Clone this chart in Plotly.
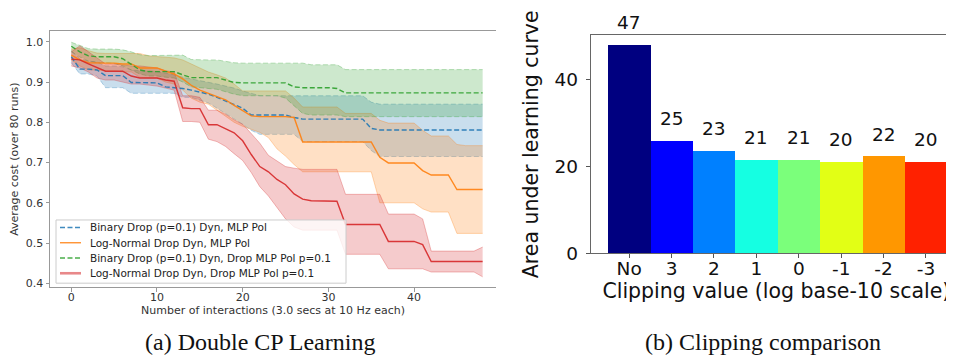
import plotly.graph_objects as go

# ---------------- data: left panel ----------------
interactions = list(range(49))

bin_mlp_mean = [0.963, 0.932, 0.932, 0.930, 0.916, 0.916, 0.916, 0.899, 0.899, 0.899,
                0.898, 0.888, 0.886, 0.884, 0.880, 0.875, 0.870, 0.862, 0.853, 0.842,
                0.835, 0.818, 0.818, 0.818, 0.818, 0.818, 0.812, 0.808, 0.808, 0.808,
                0.808, 0.808, 0.808, 0.808, 0.808, 0.785, 0.781, 0.781, 0.781, 0.781,
                0.781, 0.781, 0.781, 0.781, 0.781, 0.781, 0.781, 0.781, 0.781]
bin_mlp_upper = [0.978, 0.958, 0.952, 0.950, 0.940, 0.940, 0.938, 0.930, 0.928, 0.928,
                 0.926, 0.922, 0.918, 0.912, 0.908, 0.904, 0.900, 0.895, 0.890, 0.885,
                 0.878, 0.872, 0.866, 0.866, 0.866, 0.866, 0.866, 0.866, 0.866, 0.866,
                 0.866, 0.866, 0.866, 0.866, 0.866, 0.850, 0.845, 0.845, 0.845, 0.845,
                 0.845, 0.845, 0.845, 0.845, 0.845, 0.845, 0.845, 0.845, 0.845]
bin_mlp_lower = [0.948, 0.920, 0.920, 0.915, 0.886, 0.886, 0.886, 0.872, 0.872, 0.872,
                 0.872, 0.872, 0.872, 0.862, 0.862, 0.855, 0.848, 0.835, 0.822, 0.810,
                 0.795, 0.780, 0.770, 0.770, 0.770, 0.770, 0.770, 0.752, 0.752, 0.752,
                 0.752, 0.752, 0.752, 0.752, 0.752, 0.730, 0.715, 0.715, 0.715, 0.715,
                 0.715, 0.715, 0.715, 0.715, 0.715, 0.715, 0.715, 0.715, 0.715]

ln_mlp_mean = [0.967, 0.955, 0.948, 0.947, 0.947, 0.947, 0.945, 0.945, 0.935, 0.935,
               0.935, 0.927, 0.920, 0.908, 0.892, 0.880, 0.872, 0.865, 0.856, 0.842,
               0.830, 0.816, 0.814, 0.814, 0.814, 0.814, 0.812, 0.751, 0.751, 0.751,
               0.751, 0.751, 0.751, 0.751, 0.751, 0.751, 0.713, 0.699, 0.699, 0.699,
               0.699, 0.680, 0.669, 0.669, 0.669, 0.633, 0.633, 0.633, 0.633]
ln_mlp_upper = [0.982, 0.985, 0.978, 0.972, 0.971, 0.971, 0.971, 0.971, 0.971, 0.965,
                0.963, 0.962, 0.960, 0.955, 0.945, 0.935, 0.925, 0.918, 0.910, 0.895,
                0.878, 0.878, 0.878, 0.878, 0.878, 0.878, 0.860, 0.838, 0.838, 0.838,
                0.838, 0.838, 0.822, 0.822, 0.822, 0.822, 0.805, 0.798, 0.798, 0.798,
                0.798, 0.780, 0.766, 0.766, 0.766, 0.745, 0.742, 0.742, 0.742]
ln_mlp_lower = [0.955, 0.940, 0.930, 0.930, 0.928, 0.928, 0.925, 0.925, 0.912, 0.910,
                0.910, 0.900, 0.895, 0.880, 0.860, 0.850, 0.845, 0.830, 0.815, 0.800,
                0.790, 0.782, 0.775, 0.762, 0.734, 0.716, 0.695, 0.677, 0.677, 0.677,
                0.677, 0.677, 0.677, 0.677, 0.677, 0.677, 0.600, 0.600, 0.600, 0.600,
                0.600, 0.585, 0.577, 0.577, 0.577, 0.524, 0.524, 0.524, 0.524]

bin_drop_mean = [0.989, 0.975, 0.965, 0.963, 0.963, 0.963, 0.958, 0.945, 0.930, 0.926,
                 0.926, 0.926, 0.926, 0.918, 0.911, 0.911, 0.911, 0.911, 0.905, 0.899,
                 0.898, 0.898, 0.898, 0.898, 0.898, 0.898, 0.888, 0.886, 0.886, 0.886,
                 0.886, 0.884, 0.873, 0.873, 0.873, 0.873, 0.873, 0.873, 0.873, 0.873,
                 0.873, 0.873, 0.873, 0.873, 0.873, 0.873, 0.873, 0.873, 0.873]
bin_drop_upper = [0.999, 0.990, 0.983, 0.982, 0.982, 0.982, 0.980, 0.975, 0.968, 0.966,
                  0.966, 0.966, 0.966, 0.967, 0.956, 0.955, 0.955, 0.955, 0.952, 0.948,
                  0.947, 0.947, 0.947, 0.947, 0.947, 0.947, 0.947, 0.947, 0.943, 0.943,
                  0.943, 0.943, 0.931, 0.931, 0.931, 0.931, 0.931, 0.931, 0.931, 0.931,
                  0.931, 0.931, 0.931, 0.931, 0.931, 0.931, 0.931, 0.931, 0.931]
bin_drop_lower = [0.975, 0.962, 0.952, 0.948, 0.948, 0.946, 0.940, 0.930, 0.920, 0.915,
                  0.915, 0.912, 0.910, 0.900, 0.888, 0.886, 0.884, 0.882, 0.876, 0.870,
                  0.866, 0.866, 0.866, 0.866, 0.866, 0.860, 0.842, 0.822, 0.818, 0.818,
                  0.818, 0.818, 0.814, 0.814, 0.814, 0.814, 0.814, 0.814, 0.814, 0.814,
                  0.814, 0.814, 0.814, 0.814, 0.814, 0.814, 0.814, 0.814, 0.814]

ln_drop_mean = [0.957, 0.955, 0.945, 0.935, 0.927, 0.927, 0.927, 0.915, 0.910, 0.910,
                0.910, 0.905, 0.902, 0.836, 0.834, 0.834, 0.794, 0.794, 0.785, 0.774,
                0.754, 0.720, 0.690, 0.677, 0.658, 0.645, 0.622, 0.609, 0.605, 0.605,
                0.605, 0.604, 0.546, 0.546, 0.546, 0.546, 0.546, 0.504, 0.504, 0.504,
                0.504, 0.496, 0.454, 0.454, 0.454, 0.454, 0.454, 0.454, 0.454]
ln_drop_upper = [0.975, 0.990, 0.975, 0.960, 0.945, 0.945, 0.943, 0.940, 0.940, 0.938,
                 0.935, 0.928, 0.925, 0.866, 0.866, 0.862, 0.830, 0.830, 0.820, 0.806,
                 0.795, 0.772, 0.748, 0.718, 0.703, 0.690, 0.686, 0.683, 0.683, 0.683,
                 0.683, 0.683, 0.621, 0.621, 0.621, 0.621, 0.621, 0.572, 0.572, 0.572,
                 0.572, 0.560, 0.480, 0.480, 0.480, 0.480, 0.480, 0.480, 0.490]
ln_drop_lower = [0.940, 0.935, 0.925, 0.910, 0.905, 0.905, 0.900, 0.895, 0.895, 0.893,
                 0.890, 0.885, 0.880, 0.802, 0.802, 0.800, 0.758, 0.752, 0.740, 0.722,
                 0.705, 0.675, 0.640, 0.617, 0.590, 0.560, 0.540, 0.532, 0.532, 0.532,
                 0.532, 0.532, 0.472, 0.472, 0.472, 0.472, 0.472, 0.436, 0.436, 0.436,
                 0.436, 0.436, 0.428, 0.428, 0.428, 0.428, 0.428, 0.428, 0.416]

series_names = ["Binary Drop (p=0.1) Dyn, MLP Pol",
                "Log-Normal Drop Dyn, MLP Pol",
                "Binary Drop (p=0.1) Dyn, Drop MLP Pol p=0.1",
                "Log-Normal Drop Dyn, Drop MLP Pol p=0.1"]

y_ticks_left = [0.4, 0.5, 0.6, 0.7, 0.8, 0.9, 1.0]
x_ticks_left = [0, 10, 20, 30, 40]

# ---------------- data: right panel ----------------
clip_labels = ["No", "3", "2", "1", "0", "-1", "-2", "-3"]
auc_values = [47.9, 25.8, 23.5, 21.4, 21.4, 20.9, 22.2, 20.9]
auc_text = [str(int(v)) for v in auc_values]
y_ticks_right = [0, 20, 40]

# ---------------- styling ----------------
W, H = 954, 362
rgb = {"blue": (31, 119, 180), "orange": (255, 127, 14),
       "green": (44, 160, 44), "red": (214, 39, 40)}
bar_colors = ["#000080", "#0000ff", "#0080ff", "#15ffe2",
              "#7bff7b", "#e2ff15", "#ff9700", "#ff2100"]


def rgba(c, a):
    r, g, b = rgb[c]
    return f"rgba({r},{g},{b},{a})"


def px(x):
    return x / W


def py(y):
    return 1 - y / H


fig = go.Figure()

series = [
    (series_names[0], "blue", "dash", bin_mlp_mean, bin_mlp_lower, bin_mlp_upper),
    (series_names[1], "orange", "solid", ln_mlp_mean, ln_mlp_lower, ln_mlp_upper),
    (series_names[2], "green", "dash", bin_drop_mean, bin_drop_lower, bin_drop_upper),
    (series_names[3], "red", "solid", ln_drop_mean, ln_drop_lower, ln_drop_upper),
]
dash_pat = {"dash": "5px,2.5px", "solid": "solid"}

for name, col, dash, mean, lo, up in series:
    fig.add_trace(go.Scatter(x=interactions, y=lo, mode="lines",
                             line=dict(color=rgba(col, 0.3), width=1, dash=dash_pat[dash]),
                             showlegend=False, hoverinfo="skip",
                             xaxis="x", yaxis="y"))
    fig.add_trace(go.Scatter(x=interactions, y=up, mode="lines", fill="tonexty",
                             fillcolor=rgba(col, 0.24),
                             line=dict(color=rgba(col, 0.3), width=1, dash=dash_pat[dash]),
                             showlegend=False, hoverinfo="skip",
                             xaxis="x", yaxis="y"))
for name, col, dash, mean, lo, up in series:
    fig.add_trace(go.Scatter(x=interactions, y=mean, mode="lines", name=name,
                             line=dict(color=rgba(col, 0.9), width=1.4, dash=dash_pat[dash]),
                             showlegend=False, xaxis="x", yaxis="y"))

fig.add_trace(go.Bar(x=clip_labels, y=auc_values,
                     marker=dict(color=bar_colors, line=dict(width=0)),
                     width=1.0, showlegend=False, xaxis="x2", yaxis="y2"))

# ---- legend box for the left panel (drawn as shapes + text) ----
shapes = [dict(type="rect", xref="paper", yref="paper",
               x0=px(48), x1=px(338), y0=py(283), y1=py(218),
               fillcolor="rgba(255,255,255,0.8)", line=dict(color="#cccccc", width=1),
               layer="above")]
annotations = []
legend_y0, legend_dy = 225.7, 15.7
for i, (name, col, dash, mean, lo, up) in enumerate(series):
    yc = legend_y0 + legend_dy * i
    is_red = col == "red"
    shapes.append(dict(type="line", xref="paper", yref="paper",
                       x0=px(52), x1=px(73), y0=py(yc), y1=py(yc),
                       line=dict(color=rgba(col, 0.55 if is_red else 0.85),
                                 width=2.6 if is_red else 1.4,
                                 dash=dash_pat[dash]),
                       layer="above"))
    annotations.append(dict(text=name, x=px(80), y=py(yc), xref="paper", yref="paper",
                            showarrow=False, xanchor="left", yanchor="middle",
                            font=dict(family="DejaVu Sans", size=10.5, color="#222")))

# ---- bar value labels (category index positions) ----
for idx, (val, txt) in enumerate(zip(auc_values, auc_text)):
    annotations.append(dict(text=txt, x=idx, y=val, xref="x2", yref="y2",
                            showarrow=False, xanchor="center", yanchor="bottom",
                            yshift=10,
                            font=dict(family="DejaVu Sans", size=18.5, color="#111")))

# ---- sub-figure captions ----
annotations += [
    dict(text="(a) Double CP Learning", x=px(252), y=py(344), xref="paper", yref="paper",
         showarrow=False, xanchor="center", yanchor="middle",
         font=dict(family="Liberation Serif", size=24, color="#111")),
    dict(text="(b) Clipping comparison", x=px(755), y=py(344), xref="paper", yref="paper",
         showarrow=False, xanchor="center", yanchor="middle",
         font=dict(family="Liberation Serif", size=24, color="#111")),
]

left_font = dict(family="DejaVu Sans", size=11, color="#333")
right_font = dict(family="DejaVu Sans", size=18.5, color="#111")
title_font_r = dict(family="DejaVu Sans", size=20.5, color="#111")

fig.update_layout(
    width=W, height=H,
    margin=dict(l=0, r=0, t=0, b=0),
    paper_bgcolor="white", plot_bgcolor="white",
    font=dict(family="DejaVu Sans"),
    showlegend=False,
    bargap=0,
    shapes=shapes,
    annotations=annotations,
    xaxis=dict(domain=[px(42), px(488)], range=[-2.485, 49.56],
               tickvals=x_ticks_left, ticks="outside", ticklen=3.5, tickcolor="#999",
               showline=True, linecolor="#999", linewidth=1, mirror=True,
               showgrid=False, zeroline=False, tickfont=left_font,
               ticklabelstandoff=-4,
               title=dict(text="Number of interactions (3.0 secs at 10 Hz each)",
                          font=left_font, standoff=0),
               anchor="y"),
    yaxis=dict(domain=[py(287), py(24)], range=[0.3906, 1.026],
               tickvals=y_ticks_left, tickformat=".1f", ticks="outside", ticklen=3.5,
               tickcolor="#999", showline=True, linecolor="#999", linewidth=1,
               showgrid=False, zeroline=False, tickfont=left_font,
               title=dict(text="Average cost (over 80 runs)", font=left_font, standoff=5),
               anchor="x"),
    xaxis2=dict(domain=[px(582.7), 1.0], range=[-0.908, 7.85], type="category",
                ticks="outside", ticklen=4, tickcolor="#555",
                showline=True, linecolor="#666", linewidth=1, mirror=True,
                showgrid=False, zeroline=False, tickfont=right_font,
                ticklabelstandoff=-6,
                title=dict(text="Clipping value (log base-10 scale)",
                           font=title_font_r, standoff=2),
                anchor="y2"),
    yaxis2=dict(domain=[py(252.3), py(28)], range=[0, 50.1],
                tickvals=y_ticks_right, ticks="outside", ticklen=4, tickcolor="#555",
                showline=True, linecolor="#666", linewidth=1,
                showgrid=False, zeroline=False, tickfont=right_font,
                ticklabelstandoff=4,
                title=dict(text="Area under learning curve",
                           font=title_font_r, standoff=10),
                anchor="x2"),
)

fig.write_html("out.html")
